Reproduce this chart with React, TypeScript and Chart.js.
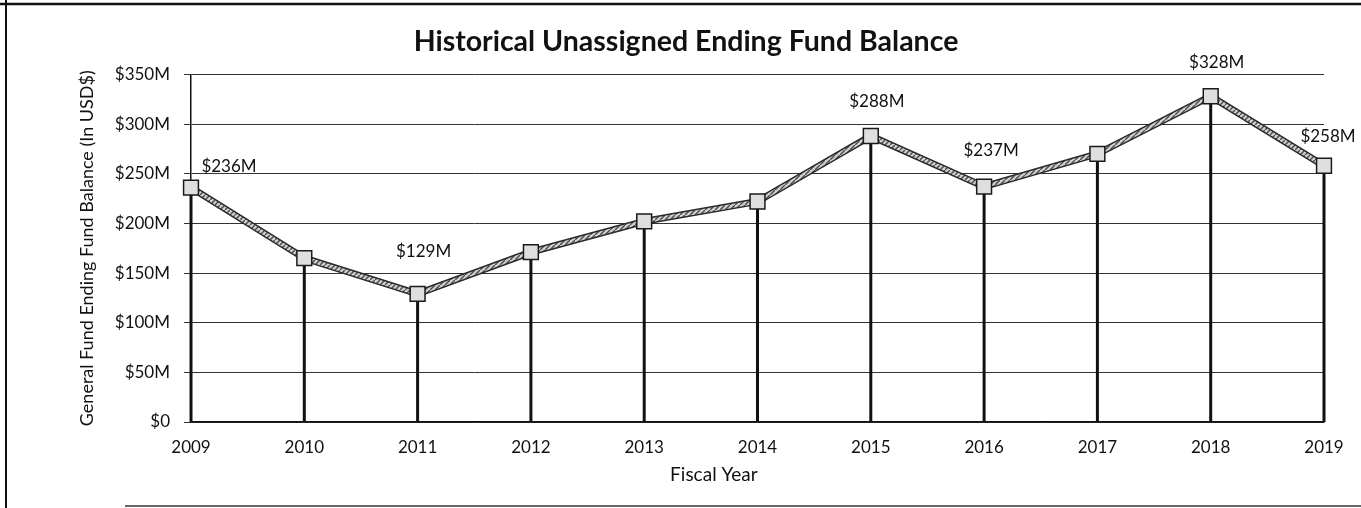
import React, { useEffect, useRef } from "react";
import { Chart, registerables } from "chart.js";

Chart.register(...registerables);

const years = ["2009", "2010", "2011", "2012", "2013", "2014", "2015", "2016", "2017", "2018", "2019"];
const balances = [236, 165, 129, 171, 202, 222, 288, 237, 270, 328, 258];
const labeledYears = ["2009", "2011", "2015", "2016", "2018", "2019"];
const yMin = 0;
const yMax = 350;
const yStep = 50;

const chartTitle = "Historical Unassigned Ending Fund Balance";
const yTitle = "General Fund Ending Fund Balance (In USD$)";
const xTitle = "Fiscal Year";

const FONT = "Lato, 'Open Sans', sans-serif";

const fmt = (v: number) => (v === 0 ? "$0" : `$${v}M`);

// label offsets (style) relative to the point, keyed by year
const labelOffsets: Record<string, [number, number]> = {
  "2009": [38, -21],
  "2011": [6, -42],
  "2015": [6, -34],
  "2016": [7, -36],
  "2018": [6, -34],
  "2019": [4, -29],
};

const framePlugin = {
  id: "frame",
  beforeDraw(chart: any) {
    const { ctx, width, height } = chart;
    ctx.save();
    ctx.fillStyle = "#ffffff";
    ctx.fillRect(0, 0, width, height);
    ctx.strokeStyle = "#111";
    ctx.lineWidth = 2.5;
    ctx.beginPath();
    ctx.moveTo(0, 4);
    ctx.lineTo(width, 4);
    ctx.stroke();
    ctx.lineWidth = 2;
    ctx.beginPath();
    ctx.moveTo(6, 0);
    ctx.lineTo(6, height);
    ctx.stroke();
    ctx.strokeStyle = "#666";
    ctx.lineWidth = 2;
    ctx.beginPath();
    ctx.moveTo(125, 506);
    ctx.lineTo(width, 506);
    ctx.stroke();
    ctx.restore();
  },
};

const dropLinePlugin = {
  id: "dropLines",
  beforeDatasetsDraw(chart: any) {
    const { ctx, chartArea } = chart;
    const meta = chart.getDatasetMeta(0);
    ctx.save();
    ctx.strokeStyle = "#111";
    ctx.lineWidth = 3;
    meta.data.forEach((pt: any) => {
      ctx.beginPath();
      ctx.moveTo(pt.x, pt.y);
      ctx.lineTo(pt.x, chartArea.bottom);
      ctx.stroke();
    });
    ctx.restore();
  },
};

const dataLabelPlugin = {
  id: "dataLabels",
  afterDatasetsDraw(chart: any) {
    const { ctx, chartArea } = chart;
    const meta = chart.getDatasetMeta(0);
    ctx.save();
    ctx.font = `17px ${FONT}`;
    ctx.fillStyle = "#111";
    ctx.textAlign = "center";
    ctx.textBaseline = "middle";
    years.forEach((yr, i) => {
      if (!labeledYears.includes(yr)) return;
      const pt = meta.data[i];
      const [dx, dy] = labelOffsets[yr] || [0, -30];
      ctx.fillText(fmt(balances[i]), pt.x + dx, pt.y + dy);
    });
    // x axis title, placed slightly left of the plot centre as in the source
    ctx.font = `19px ${FONT}`;
    const tx = chartArea.left + (chartArea.right - chartArea.left) * 0.4615;
    ctx.fillText(xTitle, tx, 475);
    ctx.restore();
  },
};

function makeHatch(): CanvasPattern | string {
  const c = document.createElement("canvas");
  c.width = 5;
  c.height = 5;
  const g = c.getContext("2d");
  if (!g) return "#aaa";
  g.fillStyle = "#d0d0d0";
  g.fillRect(0, 0, 5, 5);
  g.strokeStyle = "#4a4a4a";
  g.lineWidth = 1.4;
  g.beginPath();
  g.moveTo(0, 5);
  g.lineTo(5, 0);
  g.stroke();
  const p = g.createPattern(c, "repeat");
  return p || "#aaa";
}

export default function App() {
  const ref = useRef<HTMLCanvasElement>(null);

  useEffect(() => {
    if (!ref.current) return;
    const hatch = makeHatch();
    const chart = new Chart(ref.current, {
      type: "line",
      data: {
        labels: years,
        datasets: [
          {
            data: balances,
            borderColor: hatch as any,
            borderWidth: 4,
            pointStyle: "rect",
            pointRadius: 10.5,
            pointHoverRadius: 10.5,
            pointBackgroundColor: "#dedede",
            pointBorderColor: "#1a1a1a",
            pointBorderWidth: 1.5,
            tension: 0,
          },
          {
            data: balances,
            borderColor: "#2a2a2a",
            borderWidth: 7,
            pointRadius: 0,
            pointHoverRadius: 0,
            tension: 0,
          },
        ],
      },
      options: {
        responsive: false,
        animation: false,
        layout: { padding: { left: 48, right: 37, top: 0, bottom: 20 } },
        plugins: {
          legend: { display: false },
          tooltip: { enabled: false },
          title: {
            display: true,
            text: chartTitle,
            color: "#111",
            font: { family: FONT, size: 28.5, weight: "bold" },
            padding: { top: 25, bottom: 15.2 },
          },
        },
        scales: {
          x: {
            type: "category",
            offset: false,
            grid: { display: false, drawTicks: false },
            border: { display: true, color: "#111", width: 1.5 },
            ticks: {
              color: "#111",
              font: { family: FONT, size: 17 },
              padding: 15,
              maxRotation: 0,
            },
            title: { display: false },
            afterFit(scale: any) {
              scale.height = 66;
            },
          },
          y: {
            min: yMin,
            max: yMax,
            grid: { color: "#333", lineWidth: 1, tickLength: 7, drawTicks: true },
            border: { display: true, color: "#111", width: 1.5 },
            ticks: {
              stepSize: yStep,
              color: "#111",
              font: { family: FONT, size: 17 },
              padding: 14,
              callback: (v: any) => fmt(Number(v)),
            },
            title: {
              display: true,
              text: yTitle,
              color: "#111",
              font: { family: FONT, size: 18 },
              padding: { top: 28, bottom: 0 },
            },
            afterFit(scale: any) {
              scale.width = 143;
            },
          },
        },
      },
      plugins: [framePlugin, dropLinePlugin, dataLabelPlugin],
    });
    return () => chart.destroy();
  }, []);

  return (
    <div style={{ position: "fixed", left: 0, top: 0, width: 1361, height: 508, background: "#fff" }}>
      <canvas ref={ref} width={1361} height={508} style={{ width: 1361, height: 508, display: "block" }} />
    </div>
  );
}
